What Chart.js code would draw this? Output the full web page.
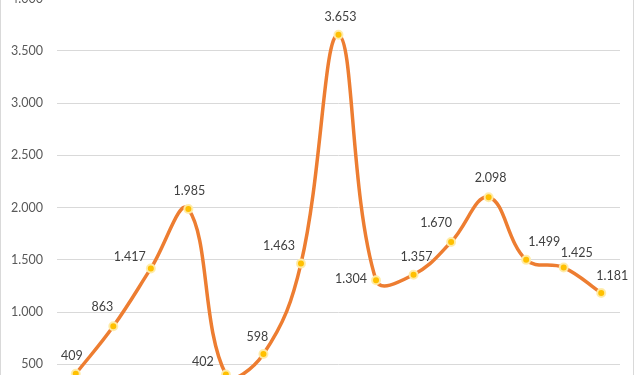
<!DOCTYPE html>
<html>
<head>
<meta charset="utf-8">
<script src="https://cdn.jsdelivr.net/npm/chart.js@4"></script>
<style>
html,body{margin:0;padding:0;background:#fff;overflow:hidden;}
#frame{position:relative;width:634px;height:375px;overflow:hidden;}
#frame:before{content:"";position:absolute;left:0;top:0;bottom:0;width:1px;background:#d9d9d9;z-index:2;}
#frame:after{content:"";position:absolute;right:0;top:0;bottom:0;width:1px;background:#d9d9d9;z-index:2;}
#wrap{position:absolute;left:0;top:-30px;width:634px;height:468px;}
</style>
</head>
<body>
<div id="frame"><div id="wrap"><canvas id="c"></canvas></div></div>
<script>
const categories = ['1','2','3','4','5','6','7','8','9','10','11','12','13','14','15'];
const values = [409, 863, 1417, 1985, 402, 598, 1463, 3653, 1304, 1357, 1670, 2098, 1499, 1425, 1181];
const yTicks = [0, 500, 1000, 1500, 2000, 2500, 3000, 3500, 4000];
// label placement relative to point (style)
const labelShift = [[-4,-18],[-11,-19],[-21,-11],[1,-18],[-23,-13],[-6,-17],[-22,-18],[2,-18],[-25,-1],[3,-18],[-15,-19],[2,-19],[18,-18],[13,-15],[11,-17]];

const fmt = v => v.toLocaleString('de-DE');

const labelPlugin = {
  id: 'valueLabels',
  afterDatasetsDraw(chart) {
    const ctx = chart.ctx;
    const meta = chart.getDatasetMeta(0);
    ctx.save();
    ctx.font = '12.5px Lato, "Open Sans", sans-serif';
    ctx.fillStyle = '#404040';
    ctx.textAlign = 'center';
    ctx.textBaseline = 'middle';
    meta.data.forEach((pt, i) => {
      const s = labelShift[i];
      ctx.fillText(fmt(values[i]), pt.x + s[0], pt.y + s[1]);
    });
    ctx.restore();
  }
};

new Chart(document.getElementById('c'), {
  type: 'line',
  data: {
    labels: categories,
    datasets: [{
      data: values,
      borderColor: '#ED7D31',
      borderWidth: 3.5,
      tension: 0.4,
      pointRadius: 4,
      pointBackgroundColor: '#FFC000',
      pointBorderColor: 'rgba(255,236,170,0.95)',
      pointBorderWidth: 2,
      fill: false
    }]
  },
  options: {
    responsive: true,
    maintainAspectRatio: false,
    animation: false,
    layout: { padding: { top: 28.5, bottom: 15, left: 0, right: 14 } },
    plugins: { legend: { display: false }, tooltip: { enabled: false } },
    scales: {
      x: { display: false, offset: true },
      y: {
        min: 0, max: 4000,
        afterBuildTicks(scale) { scale.ticks = yTicks.map(v => ({ value: v })); },
        afterFit(scale) { scale.width = 57; },
        border: { display: false },
        grid: { color: '#d9d9d9', lineWidth: 1, drawTicks: false },
        ticks: {
          padding: 14,
          color: '#595959',
          font: { family: 'Lato, "Open Sans", sans-serif', size: 12.5 },
          callback: v => fmt(v)
        }
      }
    }
  },
  plugins: [labelPlugin]
});
</script>
</body>
</html>
